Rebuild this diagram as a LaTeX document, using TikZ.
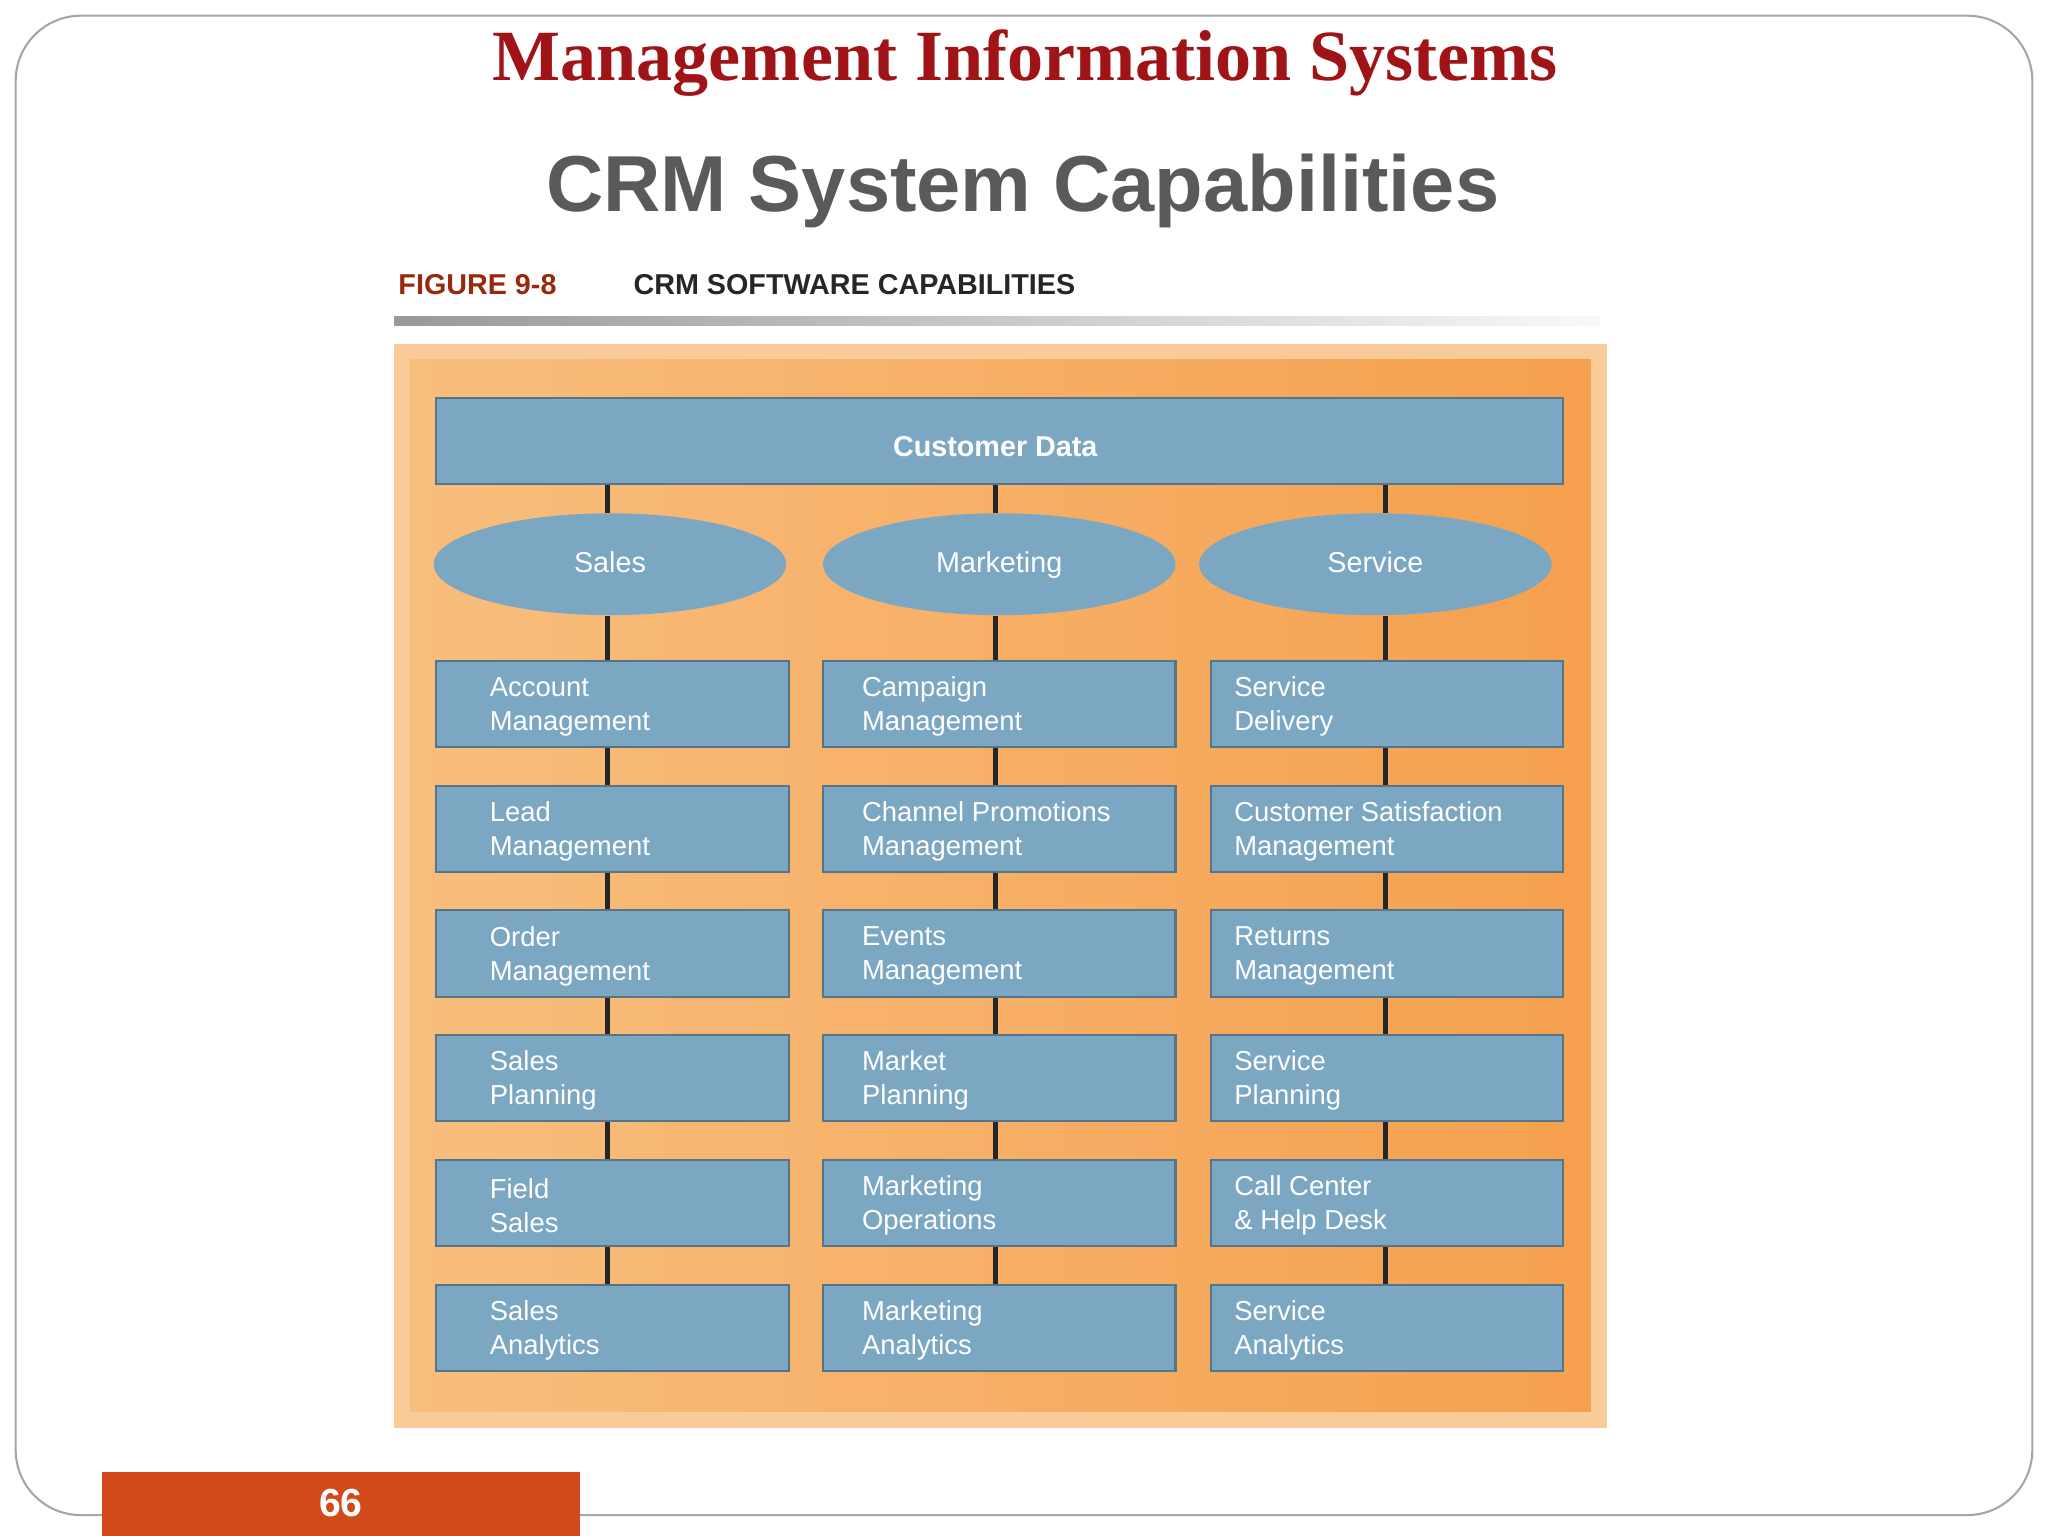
\documentclass[tikz,border=0pt]{standalone}
\usepackage{fontspec}
\setmainfont{Liberation Sans}
\newfontfamily\serifb{Liberation Serif}
\usetikzlibrary{shapes.geometric}
\definecolor{boxblue}{HTML}{7BA7C2}
\definecolor{titlered}{HTML}{A01418}
\definecolor{graytitle}{HTML}{5A5A5A}
\definecolor{orangeA}{HTML}{F8BE7E}
\definecolor{orangeB}{HTML}{F5A04E}
\definecolor{pagered}{HTML}{D04A1A}
\tikzset{
 x=0.5pt,y=-0.5pt,
 cbox/.style={draw=boxblue!70!black,line width=0.8pt,fill=boxblue,minimum width=135pt,minimum height=33pt,inner sep=0pt},
 ctext/.style={text=white,font=\fontsize{10.5}{13}\selectfont,align=left,anchor=west},
 cell/.style={ellipse,fill=boxblue,minimum width=135pt,minimum height=39pt,text=white,font=\fontsize{11}{13}\selectfont,text height=8pt,text depth=2pt},
 link/.style={line width=2pt,black!85}
}
\begin{document}
\begin{tikzpicture}
\useasboundingbox (0,0) rectangle (1568,1176);
\fill[white] (0,0) rectangle (1568,1176);
\draw[gray!70,line width=0.8pt,rounded corners=25pt] (12,12) rectangle (1556,1160);
\node (t1) at (785,48) {\serifb\bfseries\fontsize{27.6}{32}\selectfont\color{titlered}Management Information Systems};
\node (t2) at (783,146) {\bfseries\fontsize{30.4}{36}\selectfont\color{graytitle}CRM System Capabilities};
\node[anchor=west,font=\bfseries\fontsize{11}{13}\selectfont,text=titlered!70!orange!80!black] (fig) at (298,218) {FIGURE 9-8};
\node[anchor=west,font=\bfseries\fontsize{11}{13}\selectfont,text=black!85] (figt) at (478,218) {CRM SOFTWARE CAPABILITIES};
\shade[left color=gray!80,right color=gray!5] (302,242) rectangle (1225,249);
% panel
\fill[orangeA!80] (302,263) rectangle (1230,1093);
\shade[left color=orangeA,right color=orangeB] (314,275) rectangle (1218,1081);
\node[cbox,minimum width=431.5pt] (cd) at (765.5,337.5) {};
\node[text=white,font=\bfseries\fontsize{11}{13}\selectfont] at (762,342) {Customer Data};
\foreach \x/\n/\t/\lx in {467/s/Sales/465,765/m/Marketing/762,1053/v/Service/1061}{
  \node[cell] (e\n) at (\x,432) {\t};
  \coordinate (x\n) at (\lx,0);
  \draw[link] (cd.south -| x\n) -- (e\n.north -| x\n);
}
\foreach \c/\xc/\lines/\l in {
 s/469/{Account\\Management,Lead\\Management,Order\\Management,Sales\\Planning,Field\\Sales,Sales\\Analytics}/368,
 m/765/{Campaign\\Management,Channel Promotions\\Management,Events\\Management,Market\\Planning,Marketing\\Operations,Marketing\\Analytics}/653,
 v/1062/{Service\\Delivery,Customer Satisfaction\\Management,Returns\\Management,Service\\Planning,Call Center\\\& Help Desk,Service\\Analytics}/938}{
  \foreach \txt [count=\i] in \lines {
    \pgfmathsetmacro{\yy}{539+95.5*(\i-1)}
    \node[cbox] (b\c\i) at (\xc,\yy) {};
    \node[ctext] at (\l,\yy+2) {\txt};
  }
  \draw[link] (e\c.south -| x\c) -- (b\c1.north -| x\c);
  \foreach \i [evaluate=\i as \j using int(\i+1)] in {1,...,5}
    \draw[link] (b\c\i.south -| x\c) -- (b\c\j.north -| x\c);
}
\fill[pagered] (78,1127) rectangle (444,1176);
\node[text=white,font=\bfseries\fontsize{15}{18}\selectfont] (pg) at (261,1151) {66};
\end{tikzpicture}
\end{document}
